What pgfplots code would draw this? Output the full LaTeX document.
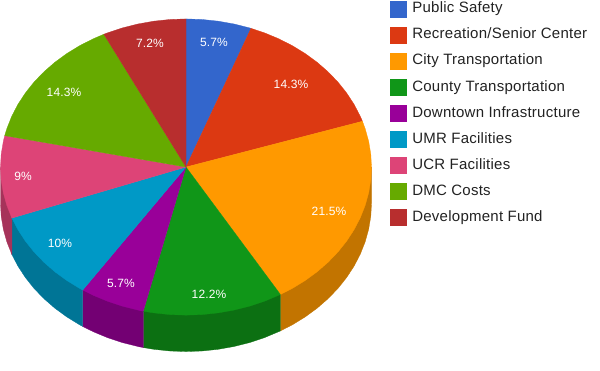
\documentclass[border=0pt]{standalone}
\usepackage{pgfplots}
\pgfplotsset{compat=1.18}
\usepackage{fontspec}
\setmainfont{Liberation Sans}
\newfontfamily\legfont[LetterSpace=1.7]{Liberation Sans}
\newfontfamily\labfont[LetterSpace=1]{Liberation Sans}
\definecolor{c1}{HTML}{3366CC}
\definecolor{c2}{HTML}{DC3912}
\definecolor{c3}{HTML}{FF9900}
\definecolor{c4}{HTML}{109618}
\definecolor{c5}{HTML}{990099}
\definecolor{c6}{HTML}{0099C6}
\definecolor{c7}{HTML}{DD4477}
\definecolor{c8}{HTML}{66AA00}
\definecolor{c9}{HTML}{B82E2E}
\definecolor{w3}{HTML}{C27400}
\definecolor{w4}{HTML}{0C7012}
\definecolor{w5}{HTML}{730073}
\definecolor{w6}{HTML}{007596}
\definecolor{w7}{HTML}{A6335A}
\definecolor{txt}{HTML}{222222}
\newcommand\D{0.2458}
\newcommand\lab[3]{\node[text=white,font=\fontsize{12}{14}\labfont] at (rel axis cs:#1/600,1-#2/371) {#3};}
\begin{document}
\begin{tikzpicture}
\path[use as bounding box] (0,0) rectangle (600pt,371pt);
\begin{axis}[
  scale only axis, width=600pt, height=371pt,
  xmin=-1.00270, xmax=2.23181, ymin=-1.37710, ymax=1.12795,
  hide axis,
  every axis plot/.append style={line width=0.3pt},
  legend image code/.code={\fill[#1] (0pt,-8pt) rectangle (16pt,8pt);},
  legend cell align=left,
  legend style={at={(rel axis cs:0.65,0.9981)},anchor=north west,draw=none,fill=none,inner sep=0pt,outer sep=0pt,
    row sep=9.75pt,column sep=6pt,
    nodes={inner sep=0pt,outer sep=0pt,text=txt,font=\fontsize{15}{16}\legfont,text height=12pt,text depth=4pt}},
]
% side walls
\addplot[forget plot,fill=w3,draw=w3] table[x=u,y expr=\thisrow{v}-\D*\thisrow{s}] {
u v s
1 0 0
1 0 1
.9962 -.0872 1
.9848 -.1736 1
.9659 -.2588 1
.9397 -.3420 1
.9063 -.4226 1
.8660 -.5 1
.8192 -.5736 1
.7660 -.6428 1
.7071 -.7071 1
.6428 -.7660 1
.5736 -.8192 1
.5090 -.8607 1
.5090 -.8607 0
} --cycle;
\addplot[forget plot,fill=w4,draw=w4] table[x=u,y expr=\thisrow{v}-\D*\thisrow{s}] {
u v s
.5090 -.8607 0
.5090 -.8607 1
.4226 -.9063 1
.3420 -.9397 1
.2588 -.9659 1
.1736 -.9848 1
.0872 -.9962 1
0 -1 1
-.0872 -.9962 1
-.1736 -.9848 1
-.2304 -.9731 1
-.2304 -.9731 0
} --cycle;
\addplot[forget plot,fill=w5,draw=w5] table[x=u,y expr=\thisrow{v}-\D*\thisrow{s}] {
u v s
-.2304 -.9731 0
-.2304 -.9731 1
-.2588 -.9659 1
-.3420 -.9397 1
-.4226 -.9063 1
-.5 -.8660 1
-.5568 -.8306 1
-.5568 -.8306 0
} --cycle;
\addplot[forget plot,fill=w6,draw=w6] table[x=u,y expr=\thisrow{v}-\D*\thisrow{s}] {
u v s
-.5568 -.8306 0
-.5568 -.8306 1
-.5736 -.8192 1
-.6428 -.7660 1
-.7071 -.7071 1
-.7660 -.6428 1
-.8192 -.5736 1
-.8660 -.5 1
-.9063 -.4226 1
-.9387 -.3446 1
-.9387 -.3446 0
} --cycle;
\addplot[forget plot,fill=w7,draw=w7] table[x=u,y expr=\thisrow{v}-\D*\thisrow{s}] {
u v s
-.9387 -.3446 0
-.9387 -.3446 1
-.9397 -.3420 1
-.9659 -.2588 1
-.9848 -.1736 1
-.9962 -.0872 1
-1 0 1
-1 0 0
} --cycle;
% top faces
\addplot[fill=c1,draw=c1] coordinates {(0,0)(0,1)(.0872,.9962)(.1736,.9848)(.2588,.9659)(.3420,.9397)(.3505,.9366)} --cycle;
\addplot[fill=c2,draw=c2] coordinates {(0,0)(.3505,.9366)(.4226,.9063)(.5,.8660)(.5736,.8192)(.6428,.7660)(.7071,.7071)(.7660,.6428)(.8192,.5736)(.8660,.5)(.9063,.4226)(.9397,.3420)(.9511,.3090)} --cycle;
\addplot[fill=c3,draw=c3] coordinates {(0,0)(.9511,.3090)(.9659,.2588)(.9848,.1736)(.9962,.0872)(1,0)(.9962,-.0872)(.9848,-.1736)(.9659,-.2588)(.9397,-.3420)(.9063,-.4226)(.8660,-.5)(.8192,-.5736)(.7660,-.6428)(.7071,-.7071)(.6428,-.7660)(.5736,-.8192)(.5090,-.8607)} --cycle;
\addplot[fill=c4,draw=c4] coordinates {(0,0)(.5090,-.8607)(.4226,-.9063)(.3420,-.9397)(.2588,-.9659)(.1736,-.9848)(.0872,-.9962)(0,-1)(-.0872,-.9962)(-.1736,-.9848)(-.2304,-.9731)} --cycle;
\addplot[fill=c5,draw=c5] coordinates {(0,0)(-.2304,-.9731)(-.2588,-.9659)(-.3420,-.9397)(-.4226,-.9063)(-.5,-.8660)(-.5568,-.8306)} --cycle;
\addplot[fill=c6,draw=c6] coordinates {(0,0)(-.5568,-.8306)(-.5736,-.8192)(-.6428,-.7660)(-.7071,-.7071)(-.7660,-.6428)(-.8192,-.5736)(-.8660,-.5)(-.9063,-.4226)(-.9387,-.3446)} --cycle;
\addplot[fill=c7,draw=c7] coordinates {(0,0)(-.9387,-.3446)(-.9397,-.3420)(-.9659,-.2588)(-.9848,-.1736)(-.9962,-.0872)(-1,0)(-.9962,.0872)(-.9848,.1736)(-.9773,.2120)} --cycle;
\addplot[fill=c8,draw=c8] coordinates {(0,0)(-.9773,.2120)(-.9659,.2588)(-.9397,.3420)(-.9063,.4226)(-.8660,.5)(-.8192,.5736)(-.7660,.6428)(-.7071,.7071)(-.6428,.7660)(-.5736,.8192)(-.5,.8660)(-.4427,.8967)} --cycle;
\addplot[fill=c9,draw=c9] coordinates {(0,0)(-.4427,.8967)(-.4226,.9063)(-.3420,.9397)(-.2588,.9659)(-.1736,.9848)(-.0872,.9962)(0,1)} --cycle;
\legend{Public Safety,Recreation/Senior Center,City Transportation,County Transportation,Downtown Infrastructure,UMR Facilities,UCR Facilities,DMC Costs,Development Fund}
\lab{214}{42}{5.7\%}
\lab{291}{84}{14.3\%}
\lab{329}{211}{21.5\%}
\lab{209}{294}{12.2\%}
\lab{121}{283}{5.7\%}
\lab{60}{243}{10\%}
\lab{23}{176}{9\%}
\lab{64}{92}{14.3\%}
\lab{150}{43.5}{7.2\%}
\end{axis}
\end{tikzpicture}
\end{document}
